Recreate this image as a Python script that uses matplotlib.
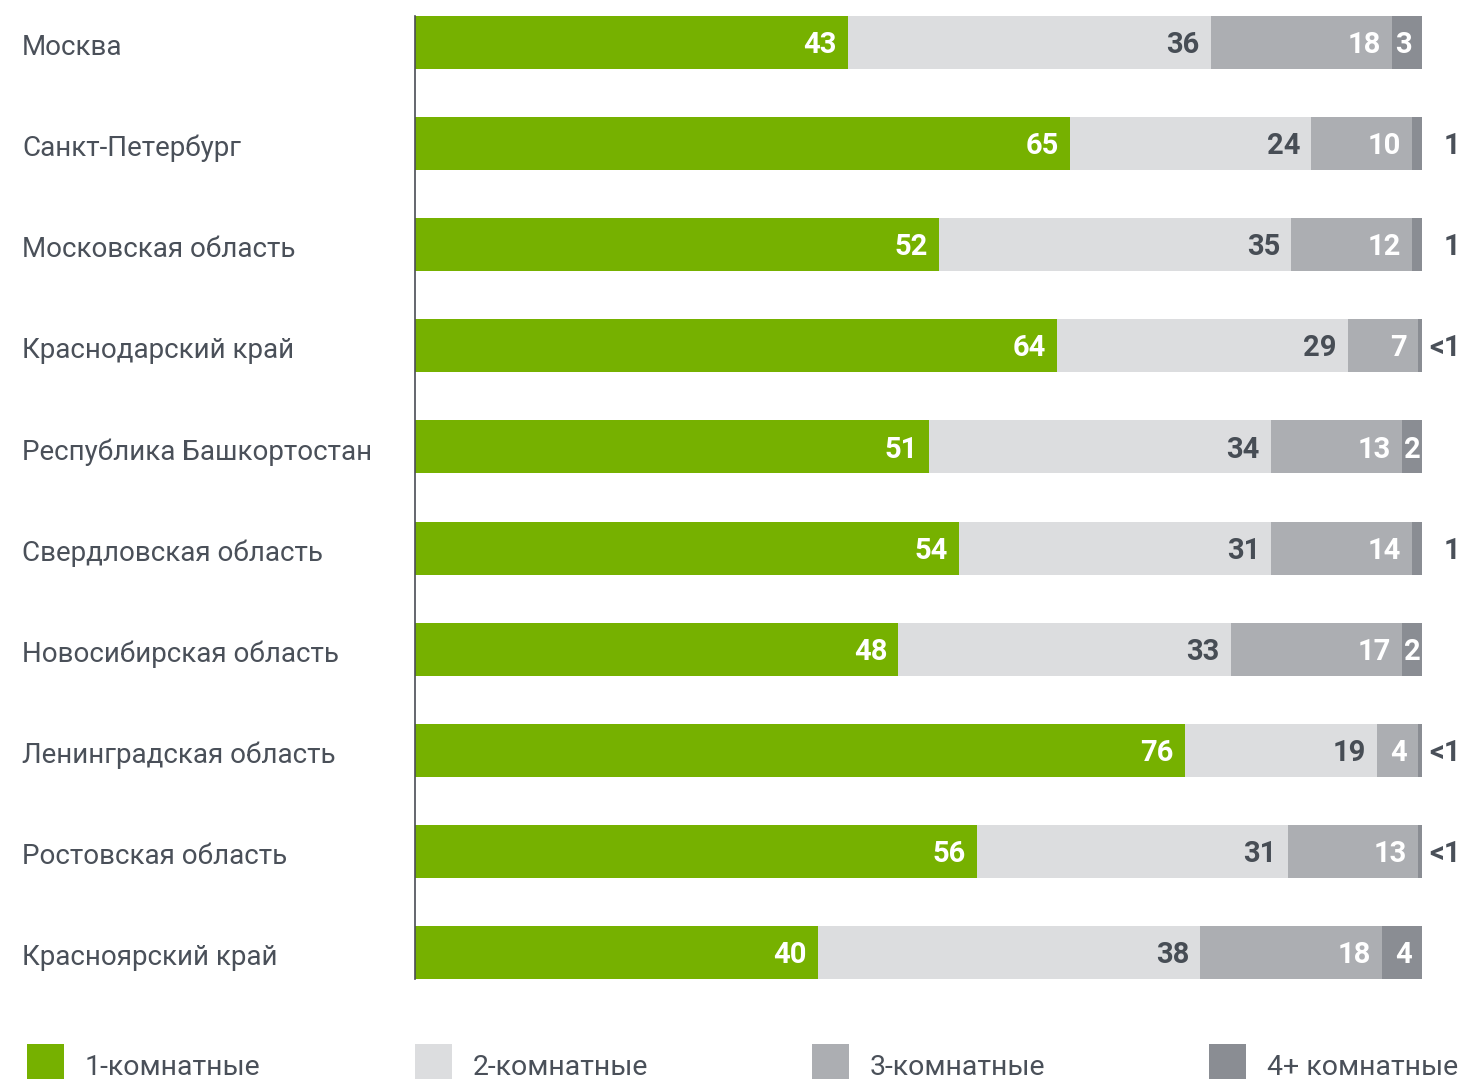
import numpy as np
import matplotlib.pyplot as plt
from matplotlib.patches import Rectangle

plt.rcParams['font.family'] = ['Roboto', 'DejaVu Sans']

regions = ['Москва', 'Санкт-Петербург', 'Московская область', 'Краснодарский край',
           'Республика Башкортостан', 'Свердловская область', 'Новосибирская область',
           'Ленинградская область', 'Ростовская область', 'Красноярский край']
one_room = [43, 65, 52, 64, 51, 54, 48, 76, 56, 40]
two_room = [36, 24, 35, 29, 34, 31, 33, 19, 31, 38]
three_room = [18, 10, 12, 7, 13, 14, 17, 4, 13, 18]
four_room = [3, 1, 1, 0.4, 2, 1, 2, 0.4, 0.4, 4]
four_labels = ['3', '1', '1', '<1', '2', '1', '2', '<1', '<1', '4']

series_names = ['1-комнатные', '2-комнатные', '3-комнатные', '4+ комнатные']
colors = ['#76b100', '#dcdddf', '#acaeb2', '#8a8d93']
label_colors = ['white', '#474d55', 'white', 'white']
text_color = '#4a5059'

data = np.array([one_room, two_room, three_room, four_room], dtype=float)
shares = data / data.sum(axis=0) * 100

fig = plt.figure(figsize=(14.64, 10.79), dpi=100)
W, H = 1464, 1079
ax = fig.add_axes([415 / W, 1 - 979 / H, (1422 - 415) / W, (979 - 16) / H])

y = np.arange(len(regions))
bar_h = 0.525
px_per_unit = (1422 - 415) / 100
base = 0.105  # baseline shift so cap height sits centred on the bar
val_kw = dict(fontsize=21, fontweight='bold', va='baseline')

left = np.zeros(len(regions))
for k in range(4):
    ax.barh(y, shares[k], left=left, height=bar_h, color=colors[k], linewidth=0)
    for i in range(len(regions)):
        seg = shares[k, i]
        end = left[i] + seg
        ty = y[i] + base
        if k < 3:
            ax.text(end - 11 / px_per_unit, ty, str(int(data[k, i])), ha='right',
                    color=label_colors[k], **val_kw)
        elif data[k, i] > 1:
            if seg * px_per_unit < 30:
                ax.text(left[i] + seg / 2, ty, four_labels[i], ha='center',
                        color=label_colors[k], **val_kw)
            else:
                ax.text(end - 10 / px_per_unit, ty, four_labels[i], ha='right',
                        color=label_colors[k], **val_kw)
        else:
            # tiny shares are labelled to the right of the bar
            ax.text(103.8, ty, four_labels[i], ha='right', color=text_color,
                    clip_on=False, **val_kw)
    left += shares[k]

ax.set_xlim(0, 100)
ax.set_ylim(len(regions) - 1 + bar_h / 2, -bar_h / 2)
for side in ['top', 'right', 'bottom']:
    ax.spines[side].set_visible(False)
ax.spines['left'].set_color('#4a4d55')
ax.spines['left'].set_linewidth(1.2)
ax.set_xticks([])
ax.set_yticks(y)
ax.set_yticklabels([])
ax.tick_params(axis='y', length=0)

# region names, left-aligned at the figure edge
for i, name in enumerate(regions):
    ax.text(-393 / px_per_unit, y[i] + base + 0.02, name, ha='left', va='baseline',
            fontsize=20, color=text_color, clip_on=False)

# legend row
legend_x = [27, 415, 812, 1209]
for k in range(4):
    fig.add_artist(Rectangle((legend_x[k] / W, 0), 37 / W, 35 / H,
                             transform=fig.transFigure, color=colors[k], linewidth=0))
    fig.text((legend_x[k] + 58) / W, 1 - 1075 / H, series_names[k], ha='left', va='baseline',
             fontsize=20.5, color=text_color)

fig.savefig('out.png', dpi=100)
